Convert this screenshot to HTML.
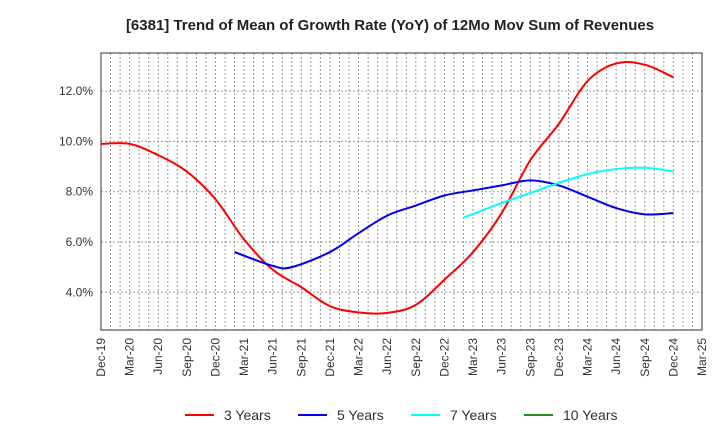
<!DOCTYPE html>
<html><head><meta charset="utf-8"><style>
body{margin:0;background:#fff;}
svg{display:block;font-family:"Liberation Sans",sans-serif;}
</style></head><body>
<svg id="chart" width="720" height="440">
<text x="390" y="30" text-anchor="middle" font-size="15" font-weight="bold" fill="#222">[6381]  Trend of Mean of Growth Rate (YoY) of 12Mo Mov Sum of Revenues</text>
<g id="grid"></g>
<g id="series"></g>
<rect x="101" y="53" width="601" height="277" fill="none" stroke="#333" stroke-width="1"/>
<g id="axes"></g>
<g id="legend"></g>
</svg>
<script>
const xTickLabels = ["Dec-19","Mar-20","Jun-20","Sep-20","Dec-20","Mar-21","Jun-21","Sep-21","Dec-21","Mar-22","Jun-22","Sep-22","Dec-22","Mar-23","Jun-23","Sep-23","Dec-23","Mar-24","Jun-24","Sep-24","Dec-24","Mar-25"];
const yTicks = [4,6,8,10,12];
const seriesNames = ["3 Years","5 Years","7 Years","10 Years"];
const seriesColors = ["#ff0000","#0000ee","#00ffff","#228b22"];
// month index since Dec-19
const months3 = [0,3,6,9,12,15,18,21,24,27,30,33,36,39,42,45,48,51,54,57,60];
const values3 = [9.9,9.9,9.45,8.8,7.7,6.1,4.9,4.2,3.45,3.2,3.18,3.5,4.5,5.6,7.15,9.25,10.7,12.4,13.1,13.05,12.55];
const months5 = [14,18,20,24,27,30,33,36,39,42,45,48,51,54,57,60];
const values5 = [5.6,5.05,5.0,5.6,6.35,7.05,7.45,7.85,8.05,8.25,8.45,8.25,7.8,7.35,7.1,7.15];
const months7 = [38,42,45,48,51,54,57,60];
const values7 = [6.97,7.55,7.95,8.35,8.7,8.9,8.95,8.8];
const months10 = [];
const values10 = [];

const X0=101,X1=702,Y0=53,Y1=330,NM=63;
const xm = m => X0 + m*(X1-X0)/NM;
const yv = v => 292.3 - (v-4)*25.15;
const NS="http://www.w3.org/2000/svg";
function mk(tag,attrs,parent){const e=document.createElementNS(NS,tag);for(const k in attrs)e.setAttribute(k,attrs[k]);parent.appendChild(e);return e;}
const grid=document.getElementById('grid'),axes=document.getElementById('axes'),ser=document.getElementById('series'),leg=document.getElementById('legend');
for(let m=1;m<NM;m++){
  const l=mk('line',{x1:xm(m),x2:xm(m),y1:Y0,y2:Y1,stroke:'#999','stroke-width':1,'stroke-dasharray':'2,2'},grid);
  
  
}
yTicks.forEach(v=>{
  const l=mk('line',{x1:X0,x2:X1,y1:yv(v),y2:yv(v),stroke:'#999','stroke-width':1,'stroke-dasharray':'2,2'},grid);
  
  
  const t=mk('text',{x:93,y:yv(v)+4,'text-anchor':'end','font-size':12,fill:'#333'},axes);
  t.textContent=v.toFixed(1)+'%';
  
  
});
xTickLabels.forEach((lab,i)=>{
  const x=xm(i*3);
  const t=mk('text',{x:0,y:0,'text-anchor':'end','font-size':12,fill:'#333',transform:`translate(${x+4},338) rotate(-90)`},axes);
  t.textContent=lab;
  
  
});
function smooth(pts){
  if(pts.length<2)return '';
  let d=`M${pts[0][0]},${pts[0][1]}`;
  for(let i=0;i<pts.length-1;i++){
    const p0=pts[i-1]||pts[i],p1=pts[i],p2=pts[i+1],p3=pts[i+2]||p2;
    const c1=[p1[0]+(p2[0]-p0[0])/6,p1[1]+(p2[1]-p0[1])/6];
    const c2=[p2[0]-(p3[0]-p1[0])/6,p2[1]-(p3[1]-p1[1])/6];
    d+=` C${c1[0]},${c1[1]} ${c2[0]},${c2[1]} ${p2[0]},${p2[1]}`;
  }
  return d;
}
const allM=[months3,months5,months7,months10],allV=[values3,values5,values7,values10];
const sNames=['series-3-years','series-5-years','series-7-years','series-10-years'];
allM.forEach((ms,si)=>{
  const pts=ms.map((m,i)=>[xm(m),yv(allV[si][i])]);
  if(!pts.length)return;
  const p=mk('path',{d:smooth(pts),fill:'none',stroke:seriesColors[si],'stroke-width':2},ser);
  
  
});
const legX=[185,298,411,524];
seriesNames.forEach((n,i)=>{
  const g=mk('g',{},leg);
  
  
  mk('line',{x1:legX[i],x2:legX[i]+29,y1:415,y2:415,stroke:seriesColors[i],'stroke-width':2},g);
  const t=mk('text',{x:legX[i]+39,y:420,'font-size':14,fill:'#333'},g);
  t.textContent=n;
  
  
});
</script>
</body></html>
